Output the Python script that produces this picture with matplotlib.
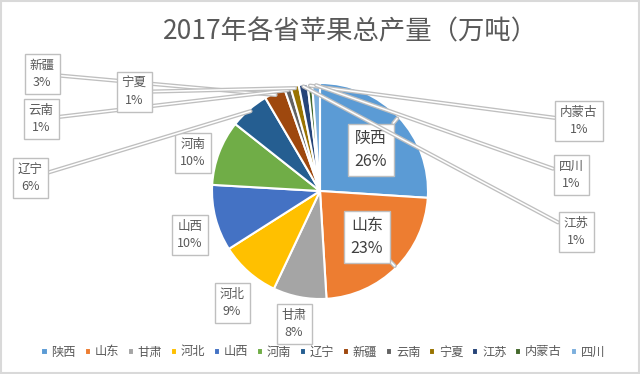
import matplotlib
matplotlib.use('Agg')
import matplotlib.pyplot as plt
import matplotlib.patheffects as pe
from matplotlib.patches import Rectangle
import numpy as np

plt.rcParams['font.family'] = ['Noto Sans CJK SC', 'DejaVu Sans']

provinces = ['陕西', '山东', '甘肃', '河北', '山西', '河南', '辽宁',
             '新疆', '云南', '宁夏', '江苏', '内蒙古', '四川']
output = [1154, 1022, 354, 398, 440, 432, 262, 138, 42, 55, 58, 30, 52]
colors = ['#5B9BD5', '#ED7D31', '#A5A5A5', '#FFC000', '#4472C4', '#70AD47',
          '#255E91', '#9E480E', '#636363', '#997300', '#264478', '#43682B',
          '#7CAFDD']

# label box centres in pixels (x, y from top), and whether a leader line is drawn
label_pos = {
    '陕西': (371, 150, True), '山东': (367, 237, True), '甘肃': (294, 324, False),
    '河北': (232, 303, False), '山西': (190, 235, False), '河南': (193, 153, False),
    '辽宁': (30, 178, True), '新疆': (42, 74, True), '云南': (41, 119, True),
    '宁夏': (134, 92, True), '江苏': (576, 232, True), '内蒙古': (579, 121, True),
    '四川': (571, 175, True),
}

W, H = 640, 374


def main():
    fig = plt.figure(figsize=(6.4, 3.74), dpi=100)
    fig.patches.append(Rectangle((0.001, 0.002), 0.997, 0.995, transform=fig.transFigure,
                                 fill=False, ec='#d9d9d9', lw=1.5))

    cx, cy, r = 320, 191, 108
    ax = fig.add_axes([(cx - r) / W, 1 - (cy + r) / H, 2 * r / W, 2 * r / H])
    wedges, _ = ax.pie(output, colors=colors, startangle=90, counterclock=False,
                       wedgeprops=dict(edgecolor='white', linewidth=1.5))
    ax.set_xlim(-1, 1)
    ax.set_ylim(-1, 1)

    total = sum(output)
    for w, name, val in zip(wedges, provinces, output):
        px, py, leader = label_pos[name]
        big = name in ('陕西', '山东')
        txt = f"{name}\n{val / total * 100:.0f}%"
        mid = np.deg2rad((w.theta1 + w.theta2) / 2)
        rr = 0.98
        xy = (rr * np.cos(mid), rr * np.sin(mid))
        arrow = None
        if leader:
            arrow = dict(arrowstyle='-', color='white', lw=1.1, shrinkA=0, shrinkB=0,
                         path_effects=[pe.Stroke(linewidth=3.0, foreground='#bfbfbf'),
                                       pe.Normal()])
        ax.annotate(txt, xy=xy, xycoords='data',
                    xytext=(px / W, 1 - py / H), textcoords='figure fraction',
                    ha='center', va='center', multialignment='center',
                    fontsize=11.5 if big else 9,
                    color='#404040' if big else '#595959', linespacing=1.45,
                    bbox=dict(boxstyle='square,pad=0.4', fc='white', ec='#bfbfbf', lw=1),
                    arrowprops=arrow, annotation_clip=False)

    fig.text(351 / W, 1 - 32 / H, '2017年各省苹果总产量（万吨）', ha='center', va='center',
             fontsize=19, color='#595959')

    fig.legend(wedges, provinces, loc='center', bbox_to_anchor=(0.505, 1 - 352 / H),
               ncol=13, frameon=False, fontsize=8.8, handlelength=0.5, handleheight=0.5,
               handletextpad=0.3, columnspacing=0.72, labelcolor='#595959')

    fig.savefig('out.png', dpi=100)


if __name__ == "__main__":
    main()
